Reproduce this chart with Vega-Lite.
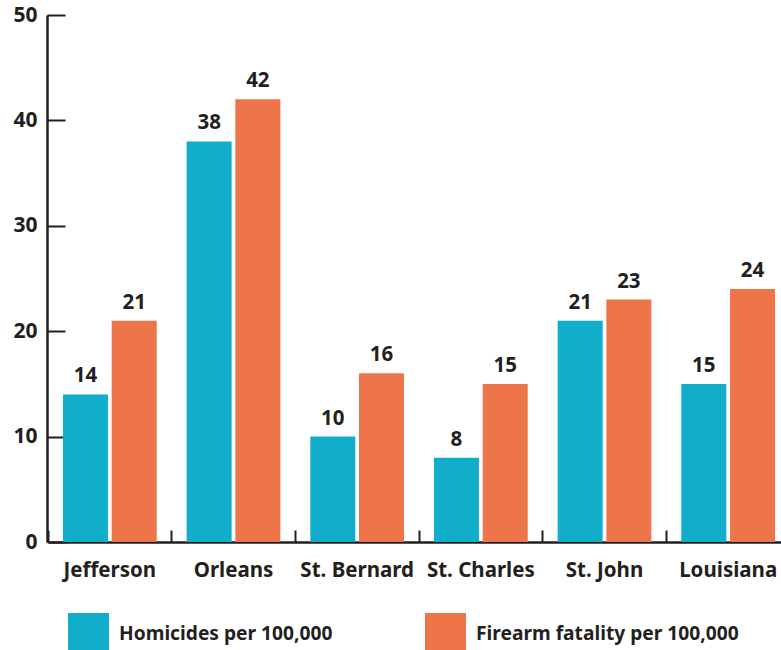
{
  "$schema": "https://vega.github.io/schema/vega-lite/v6.json",
  "autosize": "none",
  "width": 734,
  "height": 527,
  "padding": {"left": 47, "top": 15, "right": 0, "bottom": 108},
  "background": "white",
  "config": {
    "view": {"stroke": null},
    "font": "Noto Sans",
    "axis": {"grid": false, "domainColor": "#231f20", "tickColor": "#231f20", "labelColor": "#231f20", "labelFont": "Noto Sans", "labelFontWeight": "bold"},
    "legend": {"labelFont": "Noto Sans", "labelFontWeight": "bold", "labelColor": "#231f20"}
  },
  "data": {
    "values": [
      {"area": "Jefferson", "measure": "Homicides per 100,000", "value": 14},
      {"area": "Jefferson", "measure": "Firearm fatality per 100,000", "value": 21},
      {"area": "Orleans", "measure": "Homicides per 100,000", "value": 38},
      {"area": "Orleans", "measure": "Firearm fatality per 100,000", "value": 42},
      {"area": "St. Bernard", "measure": "Homicides per 100,000", "value": 10},
      {"area": "St. Bernard", "measure": "Firearm fatality per 100,000", "value": 16},
      {"area": "St. Charles", "measure": "Homicides per 100,000", "value": 8},
      {"area": "St. Charles", "measure": "Firearm fatality per 100,000", "value": 15},
      {"area": "St. John", "measure": "Homicides per 100,000", "value": 21},
      {"area": "St. John", "measure": "Firearm fatality per 100,000", "value": 23},
      {"area": "Louisiana", "measure": "Homicides per 100,000", "value": 15},
      {"area": "Louisiana", "measure": "Firearm fatality per 100,000", "value": 24}
    ]
  },
  "encoding": {
    "x": {
      "field": "area", "type": "nominal", "sort": null, "title": null,
      "scale": {"range": [1, 743], "paddingInner": 0, "paddingOuter": 0},
      "axis": {"bandPosition": 0, "labelAngle": 0, "labelFontSize": 20.5, "labelPadding": 30, "tickSize": -12, "tickWidth": 2, "domainWidth": 2.5, "labelBandPosition": 0.5}
    },
    "xOffset": {
      "field": "measure", "type": "nominal",
      "sort": ["Homicides per 100,000", "Firearm fatality per 100,000"],
      "scale": {"paddingInner": 0.076, "paddingOuter": 0.307}
    },
    "y": {
      "field": "value", "type": "quantitative", "title": null,
      "scale": {"domain": [0, 50], "nice": false},
      "axis": {"values": [0, 10, 20, 30, 40, 50], "labelFontSize": 21, "labelPadding": 28, "tickSize": -18, "tickWidth": 2, "domainWidth": 2.5}
    }
  },
  "layer": [
    {
      "mark": {"type": "bar"},
      "encoding": {
        "color": {
          "field": "measure", "type": "nominal",
          "sort": ["Homicides per 100,000", "Firearm fatality per 100,000"],
          "scale": {"domain": ["Homicides per 100,000", "Firearm fatality per 100,000"], "range": ["#10aeca", "#ee744a"]},
          "legend": {
            "title": null, "orient": "none", "direction": "horizontal",
            "legendX": 21, "legendY": 598,
            "symbolType": "square", "symbolSize": 1681, "symbolStrokeWidth": 0, "symbolOpacity": 1,
            "labelFontSize": 19.2, "labelOffset": 10, "columnPadding": 92, "padding": 0, "labelLimit": 400
          }
        }
      }
    },
    {
      "mark": {"type": "text", "baseline": "bottom", "dy": -8, "fontSize": 20.5, "fontWeight": "bold", "color": "#231f20", "font": "Noto Sans"},
      "encoding": {"text": {"field": "value", "type": "quantitative"}}
    }
  ]
}
